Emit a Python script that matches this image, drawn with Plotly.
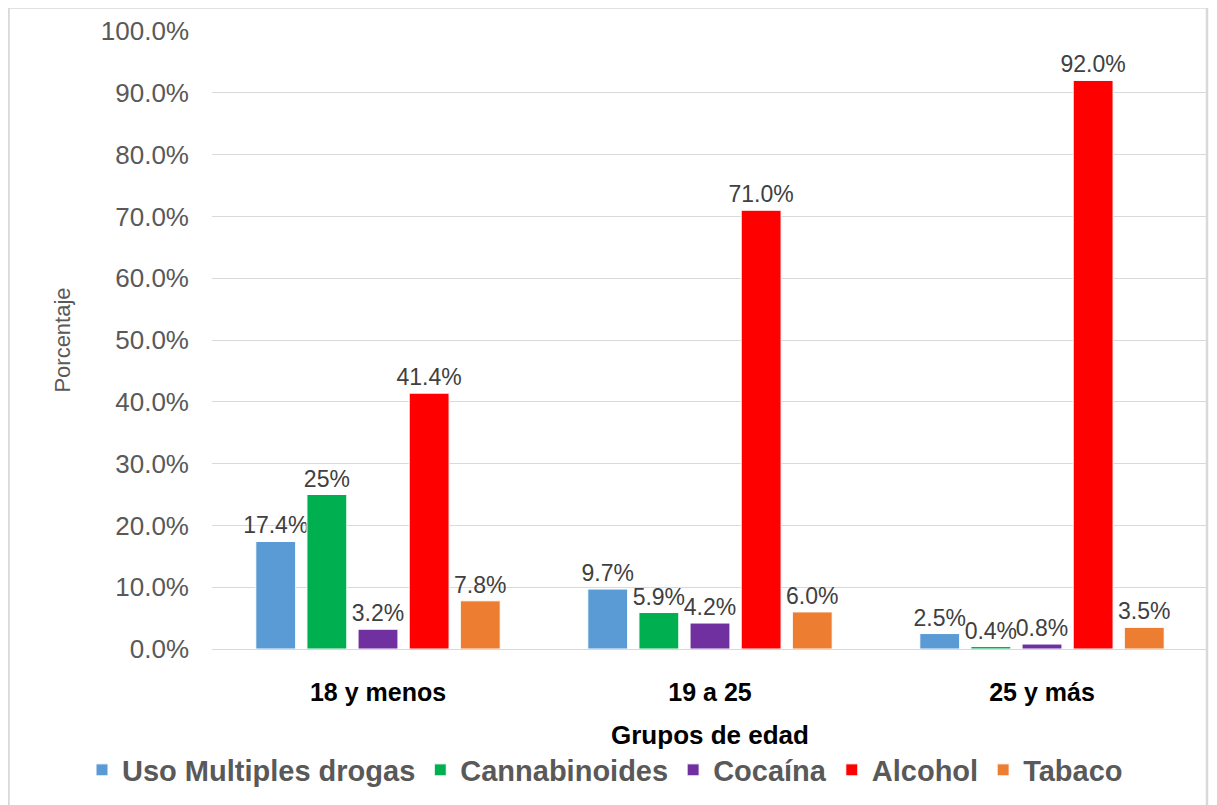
import plotly.graph_objects as go

categories = ["18 y menos", "19 a 25", "25 y más"]
series_names = ["Uso Multiples drogas", "Cannabinoides", "Cocaína", "Alcohol", "Tabaco"]
uso_multiples = [17.4, 9.7, 2.5]
cannabinoides = [25.0, 5.9, 0.4]
cocaina = [3.2, 4.2, 0.8]
alcohol = [41.4, 71.0, 92.0]
tabaco = [7.8, 6.0, 3.5]
uso_labels = ["17.4%", "9.7%", "2.5%"]
cannabinoides_labels = ["25%", "5.9%", "0.4%"]
cocaina_labels = ["3.2%", "4.2%", "0.8%"]
alcohol_labels = ["41.4%", "71.0%", "92.0%"]
tabaco_labels = ["7.8%", "6.0%", "3.5%"]
y_ticks = [0, 10, 20, 30, 40, 50, 60, 70, 80, 90, 100]
y_tick_labels = ["0.0%", "10.0%", "20.0%", "30.0%", "40.0%", "50.0%", "60.0%", "70.0%", "80.0%", "90.0%", "100.0%"]

colors = ["#5B9BD5", "#00B050", "#7030A0", "#FF0000", "#ED7D31"]
values = [uso_multiples, cannabinoides, cocaina, alcohol, tabaco]
labels = [uso_labels, cannabinoides_labels, cocaina_labels, alcohol_labels, tabaco_labels]

FONT = "Arial, Liberation Sans, sans-serif"

fig = go.Figure()
for name, vals, labs, col in zip(series_names, values, labels, colors):
    fig.add_trace(go.Bar(
        name=name, x=categories, y=vals, text=labs,
        textposition="outside", cliponaxis=False, constraintext="none",
        textfont=dict(family=FONT, size=23, color="#404040"),
        marker=dict(color=col, line=dict(color="white", width=1)),
    ))

# page has an 8px body margin: figure coordinates = page coordinates - 8
W, H = 1209, 797
ml, mr, mt, mb = 204, 9, 23, 156
pw = W - ml - mr
ph = H - mt - mb
bottom = H - mb  # figure y of the 0% line

fig.update_layout(
    width=W, height=H,
    margin=dict(l=ml, r=mr, t=mt, b=mb, autoexpand=False),
    paper_bgcolor="white", plot_bgcolor="white",
    barmode="group", bargap=0.23, bargroupgap=0.22,
    font=dict(family=FONT, color="#595959"),
    showlegend=True,
    legend=dict(
        orientation="h", x=(74 - ml) / pw, xanchor="left",
        y=(bottom - 762) / ph, yanchor="middle",
        font=dict(family=FONT, size=29, color="#595959", weight="bold"),
        itemwidth=30, traceorder="normal",
    ),
    xaxis=dict(
        showgrid=False, showline=False, zeroline=False,
        ticks="", ticklabelstandoff=26,
        tickfont=dict(family=FONT, size=25, color="black", weight="bold"),
        title=dict(text="Grupos de edad", standoff=20,
                   font=dict(family=FONT, size=26, color="black", weight="bold")),
    ),
    yaxis=dict(
        range=[0, 100], tickvals=y_ticks, ticktext=y_tick_labels,
        showgrid=True, gridcolor="#D9D9D9", gridwidth=1,
        zeroline=True, zerolinecolor="#D9D9D9", zerolinewidth=1,
        showline=False, ticks="", ticklabelstandoff=22,
        tickfont=dict(family=FONT, size=26, color="#595959"),
        title=dict(text="Porcentaje", standoff=24,
                   font=dict(family=FONT, size=22, color="#595959")),
    ),
)

fig.add_shape(
    type="rect", xref="paper", yref="paper",
    x0=(0.5 - ml) / pw, x1=(1199 - ml) / pw,
    y0=(bottom - 806) / ph, y1=(bottom + 0.5) / ph,
    line=dict(color="#D9D9D9", width=2.5), fillcolor="rgba(0,0,0,0)", layer="below",
)

fig.write_html("out.html")
